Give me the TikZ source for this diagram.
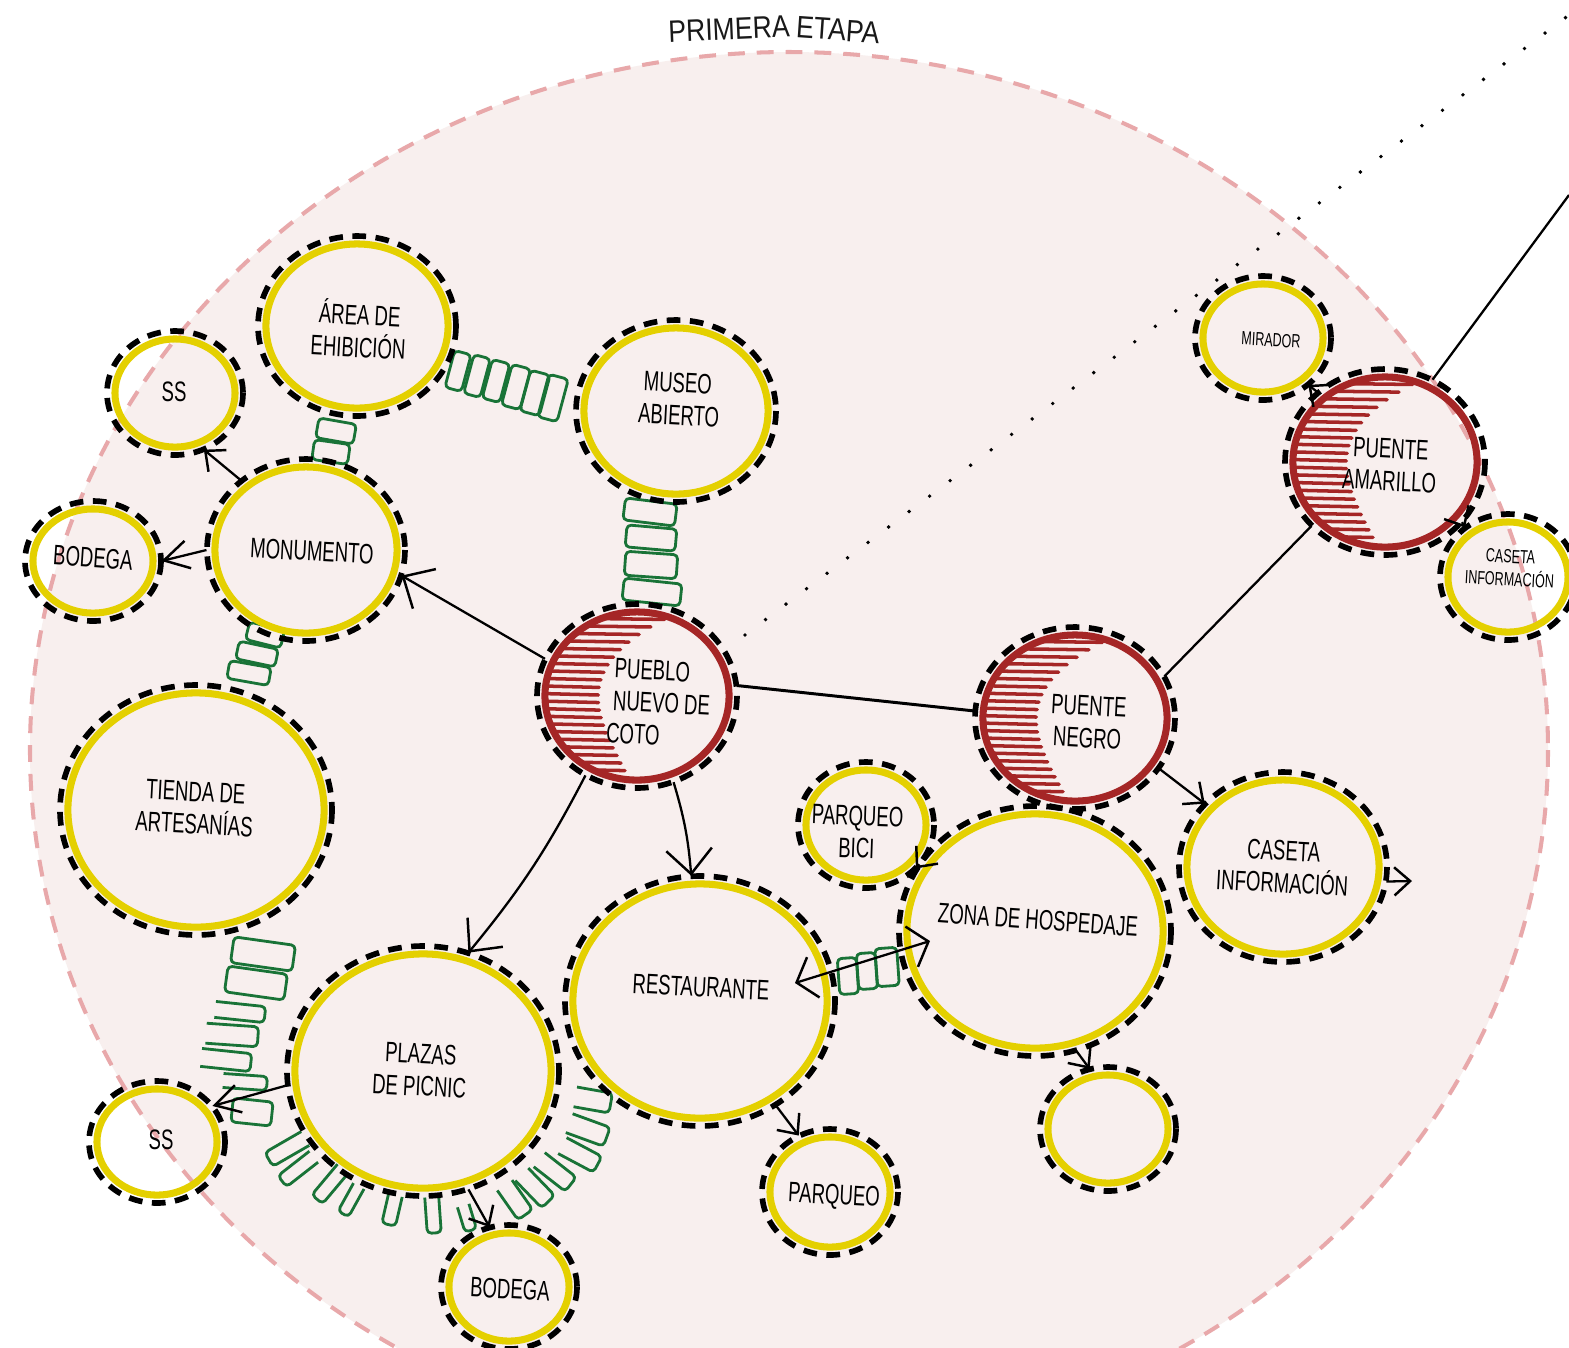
\documentclass[tikz,border=0pt]{standalone}
\usepackage{fontspec}
\setmainfont{Liberation Sans}
\newfontfamily\labfont[FakeStretch=0.66]{Liberation Sans}
\newfontfamily\titfont[FakeStretch=0.86]{Liberation Sans}
\usetikzlibrary{arrows.meta,calc,shapes.geometric}

\definecolor{ylw}{RGB}{228,208,0}
\definecolor{rdd}{RGB}{165,38,38}
\definecolor{grnn}{RGB}{25,115,55}
\definecolor{pinkfill}{RGB}{248,239,238}
\definecolor{pinkline}{RGB}{232,168,170}

\tikzset{
 ybub/.style={ellipse, draw=ylw, line width=2pt, inner sep=0pt, outer sep=2.4pt},
 rbub/.style={ellipse, draw=rdd, line width=2pt, inner sep=0pt, outer sep=2.4pt},
 ring/.style={draw=black, line width=1.6pt, dash pattern=on 3.9pt off 2.7pt},
 lab/.style={font=\labfont\fontsize{8}{9.2}\selectfont, align=center, inner sep=0pt, text=black},
 smlab/.style={font=\labfont\fontsize{5.4}{6.5}\selectfont, align=center, inner sep=0pt, text=black},
 tit/.style={font=\titfont\fontsize{8.8}{10}\selectfont, inner sep=0pt, text=black!90},
 hatchl/.style={draw=rdd, line width=1pt, line cap=round},
 grnl/.style={draw=grnn, line width=0.8pt, rounded corners=1.2pt, line join=round},
 conn/.style={draw=black, line width=0.65pt},
 conn2/.style={draw=black, line width=0.85pt},
 bigarr/.style={-{Straight Barb[length=7pt,width=13pt,line width=0.7pt]}},
 midarr/.style={-{Straight Barb[length=7pt,width=8pt,line width=0.7pt]}},
 smarr/.style={-{Straight Barb[length=4.5pt,width=8pt,line width=0.7pt]}},
 dblarr/.style={{Straight Barb[length=5pt,width=12pt,line width=0.7pt]}-{Straight Barb[length=5pt,width=12pt,line width=0.7pt]}},
 dotl/.style={draw=black, line width=1.1pt, line cap=round, dash pattern=on 0pt off 7.3pt},
 pinkd/.style={draw=pinkline, line width=1.15pt, dash pattern=on 4.8pt off 3.4pt},
}

\newcommand\mybub[6]{%
 \draw[ring] (#3,#4) ellipse [x radius={#5+8}, y radius={#6+8}];
 \node[#1, minimum width={#5*0.02cm}, minimum height={#6*0.02cm}] (#2) at (#3,#4) {};
}
\newcommand\myhatch[4]{%
 \begin{scope}
 \clip (#1,#2) ellipse [x radius=#3, y radius=#4];
 \foreach \t in {-0.93,-0.84,...,0.95}{
   \draw[hatchl] ({#1-#3-4},{#2+\t*#4}) -- ({#1+#3*(-0.42+0.6*\t*\t-0.25*\t*\t*\t)},{#2+\t*#4+1.5});
 }
 \end{scope}}
\newcommand\grect[5]{\draw[grnl, rotate around={#5:(#1,#2)}] ({#1-#3/2},{#2-#4/2}) rectangle ({#1+#3/2},{#2+#4/2});}
\newcommand\gopen[5]{\draw[grnl, rotate around={#5:(#1,#2)}] ({#1-#3/2},{#2-#4/2}) -- ({#1+#3/2},{#2-#4/2}) -- ({#1+#3/2},{#2+#4/2}) -- ({#1-#3/2},{#2+#4/2});}

\begin{document}
\begin{tikzpicture}[x=0.01cm,y=-0.01cm]
\fill[white] (0,0) rectangle (1569,1347);
\useasboundingbox (0,0) rectangle (1569,1347);

% stage area
\fill[pinkfill] (789,750) ellipse [x radius=759, y radius=698];
\draw[pinkd] (789,750) ellipse [x radius=759, y radius=698];

% title
\node[tit, rotate=2.5] (tit1) at (729,29) {PRIMERA};
\node[tit, rotate=-4] (tit2) at (838,30) {ETAPA};

% dotted line
\coordinate (dot0) at (745,635);
\coordinate (dot1) at (1569,15);
\draw[dotl] (dot0) -- (dot1);

% green ladders
% area - museo
\grect{458}{371}{17}{38}{-15}
\grect{477}{376}{17}{40}{-15}
\grect{496}{381}{18}{40}{-15}
\grect{516}{387}{19}{42}{-15}
\grect{535}{393}{20}{42}{-15}
\grect{553}{398}{20}{44}{-15}
% area - monumento
\grect{336}{431}{38}{20}{-10}
\grect{331}{452}{36}{20}{-8}
% monumento - tienda
\grect{265}{635}{36}{18}{-14}
\grect{257}{654}{40}{18}{-12}
\grect{249}{673}{42}{18}{-10}
% museo - pueblo
\grect{650}{512}{52}{22}{-7}
\grect{651}{538}{50}{22}{-5}
\grect{651}{565}{52}{24}{-4}
\grect{652}{592}{58}{22}{-6}
% restaurante - zona
\grect{848}{976}{19}{36}{4}
\grect{867}{971}{19}{36}{4}
\grect{887}{967}{22}{38}{4}
% tienda - ss
\grect{263}{954}{62}{26}{-8}
\grect{256}{983}{60}{26}{-8}
\gopen{240}{1012}{50}{16}{-6}
\gopen{232}{1035}{52}{20}{-4}
\gopen{226}{1060}{50}{18}{-6}
\gopen{245}{1082}{44}{14}{-4}
\grect{252}{1112}{40}{24}{-6}
% plazas arc
\gopen{287}{1149}{42}{16}{-150}
\gopen{298}{1169}{40}{14}{-142}
\gopen{330}{1184}{40}{14}{-130}
\gopen{351}{1200}{32}{12}{-119}
\gopen{392}{1210}{30}{14}{-103}
\gopen{433}{1215}{36}{14}{-86}
\gopen{467}{1218}{26}{12}{-73}
\gopen{515}{1200}{36}{18}{-55}
\gopen{535}{1188}{38}{18}{-46}
\gopen{555}{1172}{40}{18}{-38}
\gopen{580}{1155}{40}{18}{-28}
\gopen{588}{1130}{40}{20}{-20}
\gopen{593}{1100}{36}{20}{-10}

% hatching
\myhatch{637}{696}{92}{84}
\myhatch{1075}{718}{92}{83}
\myhatch{1385}{462}{92}{85}

% bubbles
\mybub{ybub}{area}{357}{326}{91}{82}
\mybub{ybub}{museo}{676}{411}{92}{83}
\mybub{ybub}{sst}{175}{393}{60}{54}
\mybub{ybub}{monu}{306}{550}{91}{83}
\mybub{ybub}{bodl}{93}{561}{60}{52}
\mybub{ybub}{tienda}{196}{810}{128}{117}
\mybub{ybub}{mir}{1263}{338}{60}{54}
\mybub{ybub}{casS}{1508}{577}{60}{55}
\mybub{ybub}{bici}{866}{825}{60}{55}
\mybub{ybub}{zona}{1035}{931}{128}{117}
\mybub{ybub}{casL}{1283}{867}{96}{87}
\mybub{ybub}{rest}{700}{1001}{127}{117}
\mybub{ybub}{plazas}{423}{1071}{128}{117}
\mybub{ybub}{ssb}{157}{1142}{60}{53}
\mybub{ybub}{parq}{830}{1192}{60}{55}
\mybub{ybub}{emp}{1108}{1129}{60}{54}
\mybub{ybub}{bodb}{509}{1287}{60}{54}
\mybub{rbub}{pueblo}{637}{696}{92}{84}
\mybub{rbub}{negro}{1075}{718}{92}{83}
\mybub{rbub}{amar}{1385}{462}{92}{85}

% labels
\node[lab, rotate=-3] (t-area) at (359,329) {ÁREA DE\\EHIBICIÓN};
\node[lab, rotate=-3] (t-museo) at (677,399) {MUSEO\\\ ABIERTO};
\node[lab] (t-sst) at (174,392) {SS};
\node[lab, rotate=-3] (t-monu) at (312,551) {MONUMENTO};
\node[lab, rotate=-4] (t-bodl) at (93,558) {BODEGA};
\node[lab, rotate=-3] (t-tienda) at (195,808) {TIENDA DE\\ARTESANÍAS};
\node[lab, rotate=-3, align=left] (t-pueblo) at (659,703) {\ PUEBLO\\\ NUEVO DE\\COTO};
\node[lab, rotate=-3] (t-negro) at (1088,722) {PUENTE\\NEGRO};
\node[lab, rotate=-3] (t-amar) at (1390,465) {PUENTE\\AMARILLO};
\node[smlab, rotate=-3] (t-mir) at (1271,340) {MIRADOR};
\node[smlab, rotate=-3] (t-casS) at (1510,568) {CASETA\\INFORMACIÓN};
\node[lab, rotate=-2] (t-bici) at (857,832) {PARQUEO\\BICI};
\node[lab, rotate=-4] (t-zona) at (1038,920) {ZONA\ DE\ HOSPEDAJE};
\node[lab, rotate=-3] (t-casL) at (1283,867) {CASETA\\INFORMACIÓN};
\node[lab, rotate=-3] (t-rest) at (701,987) {RESTAURANTE};
\node[lab, rotate=-3] (t-plazas) at (420,1070) {PLAZAS\\DE\ PICNIC};
\node[lab] (t-ssb) at (161,1140) {SS};
\node[lab, rotate=-3] (t-parq) at (834,1197) {PARQUEO};
\node[lab, rotate=-3] (t-bodb) at (510,1289) {BODEGA};

% connectors
\coordinate (offtr) at (1569,195);
\coordinate (casR) at (1412,881);
\coordinate (rz1) at (795,983);
\coordinate (rz2) at (930,941);
\draw[conn, bigarr] (pueblo.158) -- (monu.-15);
\draw[conn, smarr] (monu.133) -- (sst.-63);
\draw[conn, midarr] (monu.180) -- (bodl.0);
\draw[conn, bigarr] (pueblo.-123) to[bend left=6] (plazas.69);
\draw[conn, bigarr] (pueblo.-67) to[bend left=6] (rest.94);
\draw[conn2] (pueblo.6) -- (negro.176);
\draw[conn] (negro.25) -- (amar.221);
\draw[conn] (amar.60) -- (offtr);
\draw[conn, smarr] (amar.134) -- (mir.-46);
\draw[conn, smarr] (amar.-38) -- (casS.131);
\draw[conn, smarr] (negro.-31) -- (casL.141);
\draw[conn, smarr] (casL.-8) -- (casR);
\draw[conn, smarr] (zona.150) -- (bici.-41);
\draw[conn, dblarr] (rz1) -- (rz2);
\draw[conn, smarr] (zona.-71) -- (emp.107);
\draw[conn, smarr] (rest.-54) -- (parq.119);
\draw[conn, midarr] (plazas.186) -- (ssb.33);
\draw[conn, smarr] (plazas.-69) -- (bodb.108);
\end{tikzpicture}
\end{document}
